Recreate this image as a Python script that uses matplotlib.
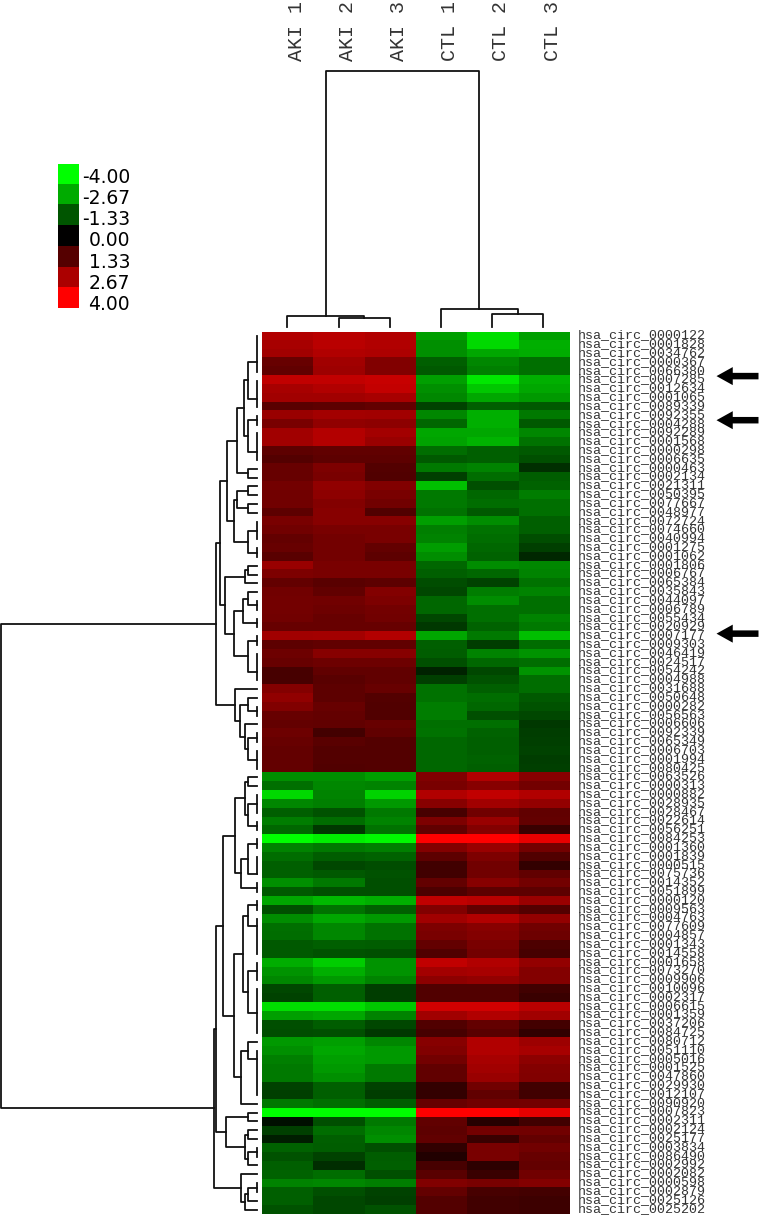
import numpy as np
import matplotlib
matplotlib.use("Agg")
import matplotlib.pyplot as plt
from matplotlib.colors import LinearSegmentedColormap
from matplotlib.transforms import ScaledTranslation

W, H = 761, 1215

sample_names = ["AKI 1", "AKI 2", "AKI 3", "CTL 1", "CTL 2", "CTL 3"]

circ_ids = [
    "0000122", "0001828", "0034762", "0000367", "0066380", "0007285", "0012634", "0001065", "0089339", "0092355",
    "0004288", "0092289", "0001568", "0000298", "0006635", "0000463", "0002134", "0021311", "0050395", "0077667",
    "0048977", "0072724", "0074660", "0040994", "0001275", "0001062", "0001806", "0006767", "0065384", "0035843",
    "0044097", "0006789", "0055434", "0020929", "0007177", "0009303", "0046419", "0024517", "0054242", "0004988",
    "0031688", "0050648", "0000282", "0056563", "0006606", "0092339", "0065349", "0006703", "0001994", "0080425",
    "0063526", "0000313", "0000882", "0028935", "0028467", "0022614", "0056251", "0084253", "0001360", "0001839",
    "0000515", "0075736", "0014352", "0051899", "0000120", "0009563", "0004763", "0077609", "0004857", "0001343",
    "0014558", "0001658", "0073270", "0009906", "0010096", "0002317", "0006615", "0001359", "0037206", "0084725",
    "0080712", "0051110", "0005016", "0001525", "0047860", "0029930", "0012107", "0090920", "0007823", "0002311",
    "0002124", "0025177", "0003834", "0086490", "0002992", "0002082", "0000598", "0002879", "0025126", "0025202",
]

# one row per circRNA, AKI 1-3
aki_rows = [
    [2.75, 2.88, 2.75], [2.62, 2.88, 2.75], [2.5, 2.75, 2.69], [1.62, 2.5, 2.0], [1.5, 2.44, 2.0],
    [3.0, 3.0, 3.12], [2.62, 2.75, 3.06], [2.5, 2.5, 2.62], [1.38, 1.44, 1.56], [2.38, 2.56, 2.5],
    [1.88, 2.25, 2.19], [2.5, 2.81, 2.56], [2.5, 2.81, 2.38], [1.44, 1.5, 1.5], [1.31, 1.44, 1.44],
    [1.62, 1.94, 1.31], [1.62, 1.88, 1.25], [1.81, 2.25, 2.0], [1.75, 2.19, 1.88], [1.75, 2.06, 1.75],
    [1.44, 2.12, 1.25], [1.88, 2.12, 2.12], [1.75, 1.88, 1.88], [1.56, 1.81, 1.88], [1.62, 1.81, 1.56],
    [1.38, 1.81, 1.44], [2.38, 1.88, 1.88], [1.94, 1.88, 1.88], [1.56, 1.38, 1.44], [1.75, 1.5, 2.06],
    [1.81, 1.75, 1.94], [1.81, 1.69, 1.81], [1.75, 1.62, 1.75], [1.62, 1.62, 1.62], [2.5, 2.56, 2.81],
    [1.44, 1.5, 1.5], [1.69, 2.12, 2.12], [1.62, 1.69, 1.69], [1.12, 1.5, 1.5], [1.12, 1.38, 1.5],
    [2.06, 1.44, 1.62], [2.25, 1.44, 1.31], [2.0, 1.62, 1.25], [1.62, 1.56, 1.25], [1.56, 1.5, 1.62],
    [1.69, 1.06, 1.5], [1.62, 1.38, 1.31], [1.56, 1.31, 1.31], [1.56, 1.31, 1.31], [1.56, 1.25, 1.31],
    [-2.25, -2.25, -2.5], [-1.75, -2.12, -2.06], [-3.38, -2.06, -3.31], [-2.12, -2.0, -2.38], [-1.5, -1.31, -1.88],
    [-1.94, -1.69, -2.06], [-1.62, -0.88, -1.81], [-4.0, -3.75, -3.88], [-2.06, -1.88, -2.0], [-1.69, -1.44, -1.56],
    [-1.5, -1.12, -1.19], [-1.5, -1.38, -1.31], [-2.25, -1.88, -1.25], [-1.38, -1.25, -1.25], [-2.62, -2.88, -2.75],
    [-1.25, -1.81, -1.5], [-2.19, -2.62, -2.38], [-1.75, -2.12, -1.81], [-1.69, -2.12, -1.81], [-1.38, -1.5, -1.44],
    [-1.38, -1.31, -1.25], [-2.69, -3.19, -2.31], [-2.31, -2.75, -2.31], [-2.12, -2.38, -2.06], [-1.12, -1.5, -0.94],
    [-1.06, -1.5, -0.94], [-3.5, -3.5, -3.12], [-2.5, -2.62, -2.06], [-1.25, -1.44, -1.12], [-1.19, -1.25, -0.88],
    [-2.38, -2.5, -2.12], [-2.25, -2.62, -2.38], [-2.0, -2.5, -2.38], [-1.88, -2.38, -1.88], [-1.88, -2.25, -1.88],
    [-1.06, -1.5, -1.06], [-1.0, -1.5, -0.94], [-1.88, -1.75, -1.5], [-4.0, -4.0, -4.0], [-0.25, -1.25, -1.88],
    [-1.0, -1.69, -2.12], [-0.44, -1.5, -2.25], [-1.56, -1.44, -1.25], [-1.31, -1.06, -1.44], [-1.5, -0.69, -1.5],
    [-1.56, -1.69, -1.25], [-2.06, -2.12, -2.0], [-1.5, -1.25, -1.06], [-1.5, -1.12, -1.0], [-1.31, -1.12, -1.31],
]

# same rows, CTL 1-3
ctl_rows = [
    [-2.5, -3.5, -2.5], [-2.25, -3.38, -2.75], [-2.25, -2.62, -2.69], [-1.5, -2.12, -1.75], [-1.38, -2.0, -1.75],
    [-2.5, -3.62, -2.75], [-2.25, -3.12, -2.62], [-2.12, -2.62, -2.38], [-1.06, -1.5, -1.38], [-2.12, -2.75, -1.88],
    [-1.62, -2.75, -1.38], [-2.62, -2.62, -2.12], [-2.56, -2.81, -1.81], [-1.69, -1.5, -1.38], [-1.38, -1.5, -1.25],
    [-1.88, -2.06, -0.75], [-1.0, -1.69, -1.44], [-3.0, -1.25, -1.56], [-1.88, -1.62, -1.94], [-1.88, -1.69, -1.75],
    [-1.81, -1.38, -1.75], [-2.5, -2.19, -1.5], [-2.0, -1.81, -1.5], [-2.06, -1.69, -1.19], [-2.44, -1.62, -1.0],
    [-2.19, -1.56, -0.62], [-1.62, -2.19, -2.12], [-1.5, -1.62, -2.06], [-1.19, -1.06, -1.81], [-1.12, -1.94, -2.06],
    [-1.62, -2.19, -1.75], [-1.62, -1.75, -1.75], [-1.12, -1.75, -2.06], [-0.88, -1.56, -1.88], [-2.62, -1.88, -3.0],
    [-1.5, -0.94, -1.69], [-1.44, -2.06, -2.31], [-1.25, -1.62, -1.69], [-0.56, -1.12, -2.31], [-1.0, -1.31, -1.69],
    [-1.81, -1.5, -1.69], [-1.81, -1.69, -1.38], [-1.94, -1.62, -1.31], [-1.94, -1.25, -1.12], [-1.75, -1.75, -0.88],
    [-1.81, -1.56, -0.94], [-1.62, -1.5, -1.0], [-1.62, -1.5, -1.06], [-1.62, -1.56, -0.94], [-1.62, -1.5, -1.0],
    [2.0, 2.75, 2.12], [1.88, 2.12, 1.81], [2.75, 3.0, 2.75], [2.12, 2.5, 2.31], [1.12, 1.75, 1.5],
    [1.94, 2.38, 1.56], [1.5, 2.06, 0.88], [4.0, 4.0, 3.62], [2.06, 2.38, 1.81], [1.44, 1.94, 1.25],
    [1.0, 1.75, 0.81], [1.0, 1.75, 1.5], [1.56, 2.12, 1.81], [1.19, 1.44, 1.44], [3.0, 2.88, 2.38],
    [2.0, 1.5, 1.31], [2.5, 2.75, 2.31], [1.94, 2.12, 1.75], [1.88, 2.06, 1.69], [1.56, 1.88, 1.19],
    [1.25, 1.81, 1.12], [3.0, 2.75, 2.31], [2.56, 2.62, 2.06], [2.19, 2.31, 2.06], [1.25, 1.25, 1.0],
    [1.25, 1.25, 0.88], [3.25, 3.25, 2.88], [2.5, 2.75, 2.5], [1.25, 1.56, 1.06], [1.12, 1.38, 0.75],
    [2.12, 2.75, 2.44], [2.0, 2.75, 2.62], [1.81, 2.62, 2.19], [1.5, 2.5, 2.06], [1.5, 2.38, 2.0],
    [0.81, 1.75, 1.0], [0.81, 1.5, 1.0], [1.62, 1.75, 1.81], [4.0, 4.0, 3.62], [1.5, 0.62, 1.0],
    [1.44, 1.81, 1.75], [1.5, 0.88, 1.56], [0.75, 1.88, 1.75], [0.5, 1.88, 1.62], [1.12, 0.69, 1.56],
    [1.38, 0.88, 1.75], [2.0, 1.88, 2.06], [1.56, 1.12, 1.06], [1.31, 1.0, 0.94], [1.31, 1.0, 0.94],
]

legend_levels = [-4.00, -2.67, -1.33, 0.00, 1.33, 2.67, 4.00]


def tip(first, last, join):
    # tight cluster of neighbouring rows, parent meets it at row "join"
    return [first, last, join]


# (merge distance, child, child); a child is a row index or a tip
row_tree = (256,
    (40.7,
        (36.7,
            (30,
                (20,
                    (13,
                        (9, tip(0, 4, 2.87), tip(5, 8, 7.1)),
                        (9, tip(9, 10, 9.5), tip(11, 14, 13.08))),
                    (9, 15, 16)),
                (23.3,
                    (20, (9, 17, 18), (9, 19, 20)),
                    (9, tip(21, 23, 22.1), tip(24, 25, 24.5)))),
            (31.7,
                (12.3, (9, 26, 27), 28),
                (23.3,
                    (14.3, (9, 29, tip(30, 31, 30.5)), tip(32, 33, 32.5)),
                    (9, tip(34, 35, 34.5), tip(36, 39, 38))))),
        (21.7,
            40,
            (16.7,
                (9, 41, tip(42, 43, 42.5)),
                (12.3, 44, (9, tip(45, 46, 45.5), tip(47, 49, 48)))))),
    (42.7,
        (40.7,
            (34,
                (21.7,
                    (12.3, (9, 50, 51), (9, tip(52, 54, 53), tip(55, 56, 55.5))),
                    (16, (9, tip(57, 58, 57.5), tip(59, 61, 60.9)), tip(62, 63, 62.5))),
                (23.3,
                    (14.3,
                        (9, tip(64, 65, 64.5), tip(66, 70, 66.85)),
                        (9, tip(71, 73, 72), tip(74, 79, 76.75))),
                    (16, (9, 80, tip(81, 86, 81.97)), 87))),
            (30.7,
                (9, 88, 89),
                (12.3, (9, 90, 91), (9, tip(92, 93, 92.5), 94)))),
        (16, 95, (12.3, (9, tip(96, 97, 96.5), 98), 99))))

col_tree = (256, (11, 0, (9.2, 1, 2)), (17.7, 3, (12.7, 4, 5)))

arrow_rows = [4.5, 9.5, 33.7]


def px_axes(fig, left, top, right, bottom):
    """Axes placed with reference pixel coordinates."""
    return fig.add_axes([left / W, 1 - bottom / H, (right - left) / W, (bottom - top) / H])


def draw_tree(ax, node, horizontal_root=True):
    """Draw a dendrogram and return (position, height) of the node."""
    if isinstance(node, int):
        return node, 0
    if isinstance(node, list):
        if horizontal_root:
            ax.plot([0, 0], [node[0], node[1]], color="#111111", lw=1.3, clip_on=False)
        return node[2], 0
    h, a, b = node
    pa, ha = draw_tree(ax, a, horizontal_root)
    pb, hb = draw_tree(ax, b, horizontal_root)
    if horizontal_root:
        ax.plot([ha, h, h, hb], [pa, pa, pb, pb], color="#111111", lw=1.3, clip_on=False)
    else:
        ax.plot([pa, pa, pb, pb], [ha, h, h, hb], color="#111111", lw=1.3, clip_on=False)
    return (pa + pb) / 2, h


fig = plt.figure(figsize=(W / 100, H / 100), dpi=100)

cmap = LinearSegmentedColormap.from_list("gbr", ["#00ff00", "#000000", "#ff0000"])

# heatmap
data = np.hstack([np.array(aki_rows), np.array(ctl_rows)])
ax_heat = px_axes(fig, 261.7, 332, 569, 1214)
ax_heat.imshow(data, cmap=cmap, vmin=-4, vmax=4, aspect="auto", interpolation="nearest")
ax_heat.set_xticks([])
ax_heat.yaxis.tick_right()
ax_heat.set_yticks(range(len(circ_ids)))
ax_heat.set_yticklabels(["hsa_circ_" + c for c in circ_ids], family="Liberation Mono",
                        fontsize=9.6, color="#333333")
ax_heat.tick_params(axis="y", length=0, pad=6.2)
# labels sit a little above the row centres in the original
label_shift = ScaledTranslation(0, 2.5 / 100, fig.dpi_scale_trans)
for lab in ax_heat.get_yticklabels():
    lab.set_transform(lab.get_transform() + label_shift)
for s in ax_heat.spines.values():
    s.set_visible(False)

# sample names above the column dendrogram
for i, name in enumerate(sample_names):
    ax_heat.text(i + 0.17, 1.307, name, transform=ax_heat.get_xaxis_transform(),
                 rotation=90, ha="center", va="bottom", family="Liberation Mono",
                 fontsize=14.4, color="#333333")

# arrows pointing at the labels
for r in arrow_rows:
    ax_heat.annotate("", xy=(8.38, r), xytext=(9.2, r), annotation_clip=False,
                     arrowprops=dict(arrowstyle="simple,head_length=0.9,head_width=1.0,tail_width=0.36",
                                     mutation_scale=13, color="black", lw=0, shrinkA=0, shrinkB=0))

# row dendrogram
ax_rows = px_axes(fig, 0, 332, 257, 1214)
draw_tree(ax_rows, row_tree)
ax_rows.set_xlim(257, 0)
ax_rows.set_ylim(99.5, -0.5)
ax_rows.axis("off")

# column dendrogram
ax_cols = px_axes(fig, 261.7, 60, 569, 326.7)
draw_tree(ax_cols, col_tree, horizontal_root=False)
ax_cols.set_xlim(-0.5, 5.5)
ax_cols.set_ylim(0, 266.7)
ax_cols.axis("off")

# colour legend, its labels are spaced slightly wider than the cells
ax_leg = px_axes(fig, 57.7, 164, 78.7, 308.3)
ax_leg.imshow(np.array(legend_levels).reshape(-1, 1), cmap=cmap, vmin=-4, vmax=4,
              aspect="auto", interpolation="nearest")
ax_leg.set_xticks([])
ax_leg.yaxis.tick_right()
ax_leg.set_ylim(6.5, -0.5)
ax_leg.set_yticks(np.arange(len(legend_levels)) * 1.03 + 0.04)
ax_leg.set_yticklabels([f"{v:.2f}" for v in legend_levels], fontsize=13.5, family="DejaVu Sans", ha="right")
ax_leg.tick_params(axis="y", length=0, pad=37)
for s in ax_leg.spines.values():
    s.set_visible(False)

fig.savefig("out.png", dpi=100)
